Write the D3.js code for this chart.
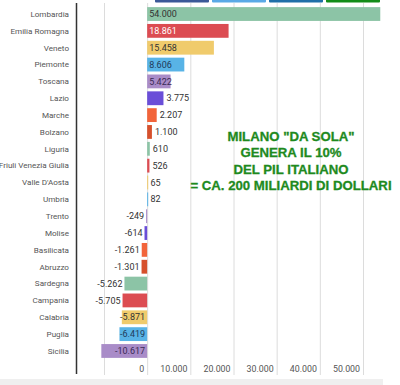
<!DOCTYPE html>
<html>
<head>
<meta charset="utf-8">
<title>PIL regioni</title>
<style>
  body { margin: 0; background: #fff; }
  svg { display: block; font-family: Roboto, "Noto Sans", sans-serif; }
</style>
</head>
<body>
<svg id="chart" width="400" height="385"></svg>
<script src="https://cdn.jsdelivr.net/npm/d3@7/dist/d3.min.js"></script>
<script>
// regions, top to bottom
var regions = ["Lombardia", "Emilia Romagna", "Veneto", "Piemonte", "Toscana", "Lazio", "Marche",
  "Bolzano", "Liguria", "Friuli Venezia Giulia", "Valle D'Aosta", "Umbria", "Trento", "Molise",
  "Basilicata", "Abruzzo", "Sardegna", "Campania", "Calabria", "Puglia", "Sicilia"];
var values = [54000, 18861, 15458, 8606, 5422, 3775, 2207, 1100, 610, 526, 65, 82, -249, -614,
  -1261, -1301, -5262, -5705, -5871, -6419, -10617];
var gridTicks = [-10000, 0, 10000, 20000, 30000, 40000, 50000];
var tickLabels = [0, 10000, 20000, 30000, 40000, 50000];
var note = ['MILANO "DA SOLA"', "GENERA IL 10%", "DEL PIL ITALIANO", "= CA. 200 MILIARDI DI DOLLARI"];

var palette = ["#8cc4a6", "#dc4c52", "#f0cb6c", "#58b3e6", "#a98cc8", "#6a4ed8", "#f2643a", "#d6502c"];
var whiteText = ["Emilia Romagna"];

var it = d3.formatLocale({ decimal: ",", thousands: ".", grouping: [3], currency: ["", "€"], minus: "-" });
var fmt = it.format(",d");

var svg = d3.select("#chart");

var x = d3.scaleLinear().domain([-10000, 50000]).range([104, 363]);
var y = d3.scaleBand().domain(regions).range([5.6, 359.4]).paddingInner(0.18).paddingOuter(0.09);
var color = d3.scaleOrdinal().domain(regions).range(palette);

// cut-off share buttons at top
var btnColors = ["#3b5998", "#5aa9e6", "#1f6fa8", "#128c18"];
svg.selectAll("rect.btn").data(btnColors).enter().append("rect")
  .attr("class", "btn")
  .attr("x", function (d, i) { return 155 + i * 57; })
  .attr("y", -2).attr("width", 54).attr("height", 4.5).attr("rx", 1)
  .attr("fill", function (d) { return d; });

// gridlines
svg.selectAll("line.grid").data(gridTicks).enter().append("line")
  .attr("class", "grid")
  .attr("x1", function (d) { return x(d) + 0.5; })
  .attr("x2", function (d) { return x(d) + 0.5; })
  .attr("y1", 3).attr("y2", 375)
  .attr("stroke", "#dcdcdc").attr("stroke-width", 1);

// tick labels
svg.selectAll("text.tick").data(tickLabels).enter().append("text")
  .attr("class", "tick")
  .attr("x", function (d) { return x(d) - 3; })
  .attr("y", 372)
  .attr("text-anchor", "end")
  .attr("font-size", 8.8)
  .attr("fill", "#555")
  .text(function (d) { return fmt(d); });

// dark separator line
svg.append("line")
  .attr("x1", 76.5).attr("x2", 76.5).attr("y1", 3).attr("y2", 374)
  .attr("stroke", "#333").attr("stroke-width", 1.5);

// bottom grey band
svg.append("rect").attr("x", 0).attr("y", 379).attr("width", 383).attr("height", 6).attr("fill", "#efefef");

var rows = svg.selectAll("g.row").data(regions).enter().append("g").attr("class", "row");

rows.append("text")
  .attr("x", 69)
  .attr("y", function (d) { return y(d) + y.bandwidth() / 2; })
  .attr("dy", "0.35em")
  .attr("text-anchor", "end")
  .attr("font-size", 8.1)
  .attr("fill", "#555")
  .text(function (d) { return d; });

rows.append("rect")
  .attr("x", function (d, i) { return x(Math.min(0, values[i])); })
  .attr("y", function (d) { return y(d); })
  .attr("width", function (d, i) { return Math.max(1, Math.abs(x(values[i]) - x(0))); })
  .attr("height", y.bandwidth())
  .attr("fill", function (d) { return color(d); });

rows.append("text")
  .attr("y", function (d) { return y(d) + y.bandwidth() / 2; })
  .attr("dy", "0.35em")
  .attr("font-size", 9)
  .each(function (d, i) {
    var v = values[i];
    var t = d3.select(this);
    var inside = v >= 5000 || v <= -5800;
    if (v >= 0) {
      t.attr("text-anchor", "start")
        .attr("x", inside ? x(0) + 2 : x(v) + 3);
    } else {
      t.attr("text-anchor", "end")
        .attr("x", inside ? x(0) - 2 : x(v) - 2);
    }
    var fill = "#333";
    if (inside && whiteText.indexOf(d) >= 0) fill = "#fff";
    if (inside && (d === "Piemonte" || d === "Puglia")) fill = "#1f3a5a";
    if (inside && (d === "Toscana" || d === "Sicilia")) fill = "#3a2a55";
    t.attr("fill", fill).text(fmt(v));
  });

// annotation
svg.append("text")
  .attr("x", 291).attr("y", 136)
  .attr("text-anchor", "middle")
  .attr("font-family", "'Liberation Sans', Arial, sans-serif")
  .attr("font-weight", "bold")
  .attr("font-size", 13.2)
  .attr("fill", "#1e8a1e")
  .attr("stroke", "#1e8a1e").attr("stroke-width", 0.3)
  .selectAll("tspan").data(note).enter().append("tspan")
  .attr("x", 291)
  .attr("dy", function (d, i) { return i === 0 ? "0.35em" : 16.5; })
  .text(function (d) { return d; });
</script>
</body>
</html>
